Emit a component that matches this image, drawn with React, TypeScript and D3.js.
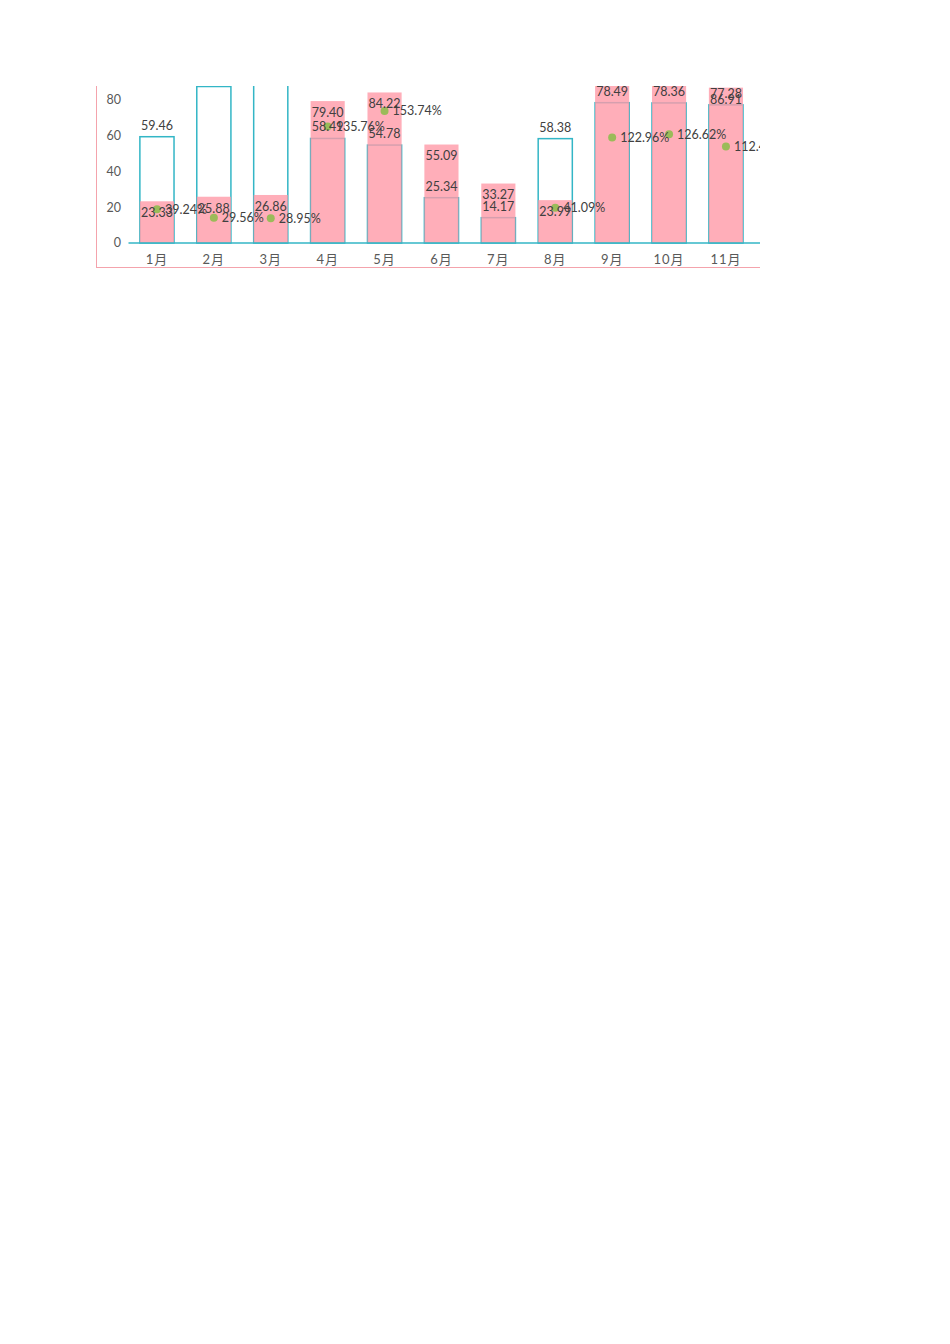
import * as d3 from "d3";
import React from "react";

const months = ["1月", "2月", "3月", "4月", "5月", "6月", "7月", "8月", "9月", "10月", "11月"];
const actual = [23.33, 25.88, 26.86, 79.4, 84.22, 55.09, 33.27, 23.99, 96.51, 99.22, 86.91];
const target = [59.46, 87.55, 92.78, 58.49, 54.78, 25.34, 14.17, 58.38, 78.49, 78.36, 77.28];
const rate = [39.24, 29.56, 28.95, 135.76, 153.74, 217.4, 234.79, 41.09, 122.96, 126.62, 112.46];
const yTicks = [0, 20, 40, 60, 80, 100, 120];

const FONT = "Lato, 'Noto Sans CJK SC', sans-serif";
const TEAL = "#33b6c6";
const PINK = "#ff9aa7";
const GREEN = "#9bbb59";

const App: React.FC = () => {
  // page coordinates (svg is shifted by the 8px body margin)
  const x = d3
    .scaleBand<string>()
    .domain(months)
    .range([128.5, 754.4])
    .paddingInner(0.4)
    .paddingOuter(0.2);
  const y = d3.scaleLinear().domain([0, 120]).range([243, 28.5]);
  const y2 = d3.scaleLinear().domain([0, 250]).range([243, 28.5]);
  const bw = x.bandwidth();

  return (
    <svg width={942} height={400} style={{ display: "block" }}>
      <defs>
        <clipPath id="view">
          <rect x={88} y={86} width={672} height={200} />
        </clipPath>
      </defs>
      <g transform="translate(-8,-8)" fontFamily={FONT}>
        <g clipPath="url(#view)">
          <rect x={96.5} y={10} width={800} height={257.5} fill="#fff" stroke="#f4a3ac" strokeWidth={1} />
          {yTicks.map((t) => (
            <text key={t} x={121} y={y(t)} dy="0.35em" textAnchor="end" fontSize={12.5} fill="#595959">
              {t}
            </text>
          ))}
          {months.map((m, i) => (
            <rect
              key={"t" + m}
              x={x(m)!}
              y={y(target[i])}
              width={bw}
              height={y(0) - y(target[i])}
              fill="#fff"
              stroke={TEAL}
              strokeWidth={1.5}
            />
          ))}
          {months.map((m, i) => (
            <rect
              key={"a" + m}
              x={x(m)!}
              y={y(actual[i])}
              width={bw}
              height={y(0) - y(actual[i])}
              fill={PINK}
              fillOpacity={0.8}
            />
          ))}
          <line x1={128.5} x2={820} y1={y(0)} y2={y(0)} stroke={TEAL} strokeWidth={1.5} />
          {months.map((m, i) => (
            <circle key={"c" + m} cx={x(m)! + bw / 2} cy={y2(rate[i])} r={4} fill={GREEN} />
          ))}
          {months.map((m) => (
            <text
              key={"l" + m}
              x={x(m)! + bw / 2}
              y={y(0) + 16.5}
              dy="0.35em"
              textAnchor="middle"
              fontSize={13}
              letterSpacing={1}
              fill="#595959"
            >
              {m}
            </text>
          ))}
          {months.map((m, i) => (
            <text
              key={"tv" + m}
              x={x(m)! + bw / 2}
              y={y(target[i]) - 11.5}
              dy="0.35em"
              textAnchor="middle"
              fontSize={12.5}
              fill="#404040"
            >
              {target[i].toFixed(2)}
            </text>
          ))}
          {months.map((m, i) => (
            <text
              key={"av" + m}
              x={x(m)! + bw / 2}
              y={y(actual[i]) + 11.5}
              dy="0.35em"
              textAnchor="middle"
              fontSize={12.5}
              fill="#404040"
            >
              {actual[i].toFixed(2)}
            </text>
          ))}
          {months.map((m, i) => (
            <text
              key={"rv" + m}
              x={x(m)! + bw / 2 + 8}
              y={y2(rate[i])}
              dy="0.35em"
              textAnchor="start"
              fontSize={12.5}
              fill="#404040"
            >
              {rate[i].toFixed(2) + "%"}
            </text>
          ))}
        </g>
      </g>
    </svg>
  );
};

export default App;
